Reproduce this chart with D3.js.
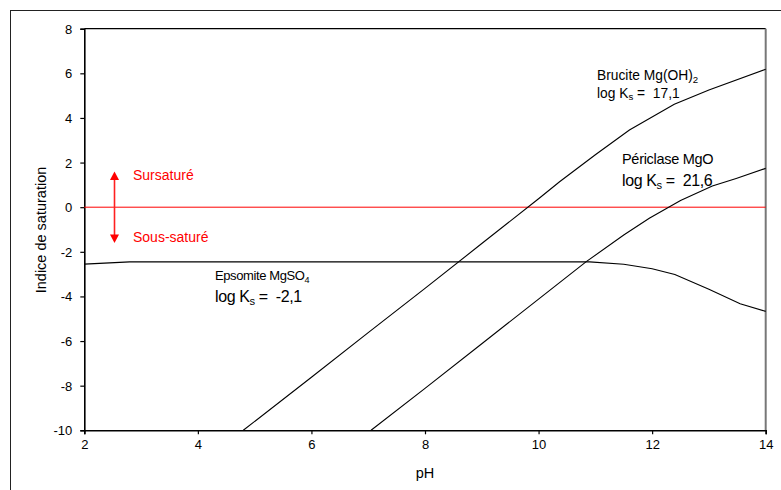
<!DOCTYPE html>
<html><head><meta charset="utf-8">
<script src="https://cdn.jsdelivr.net/npm/d3@7"></script>
<style>body{margin:0;background:#fff}svg{display:block}text{font-family:"Liberation Sans",Arial,sans-serif;white-space:pre}</style>
</head><body>
<svg id="c" width="781" height="490"></svg>
<script>
const xTicks = [2, 4, 6, 8, 10, 12, 14];
const yTicks = [-10, -8, -6, -4, -2, 0, 2, 4, 6, 8];
const bruciteData = [[4.8,-10],[6,-7.62],[7,-5.62],[8,-3.64],[9,-1.63],[10,0.38],[10.37,1.14],[11,2.35],[11.6,3.46],[12.39,4.61],[13,5.25],[14,6.18]];
const pericladeData = [[7.05,-10],[8,-8.12],[9,-6.12],[10,-4.12],[10.84,-2.44],[11.5,-1.25],[11.95,-0.5],[12.5,0.3],[13.06,0.95],[13.48,1.29],[14,1.74]];
const epsomiteData = [[2,-2.55],[2.8,-2.45],[4,-2.45],[6,-2.45],[8,-2.45],[10,-2.45],[10.9,-2.45],[11.5,-2.56],[12,-2.76],[12.4,-3.02],[13,-3.68],[13.55,-4.33],[14,-4.67]];
const labels = {
  y: "Indice de saturation",
  x: "pH",
  sur: "Sursaturé",
  sous: "Sous-saturé"
};

const svg = d3.select("#c");
const x = d3.scaleLinear().domain([2, 14]).range([84.3, 765.7]);
const y = d3.scaleLinear().domain([-10, 8]).range([430.3, 28.7]);

// outer frame
svg.append("rect").attr("x", 10.5).attr("y", 10.5).attr("width", 800).attr("height", 500)
  .attr("fill", "none").attr("stroke", "#222").attr("stroke-width", 1);

// plot frame: top and right
svg.append("line").attr("x1", x(2)).attr("x2", x(14)).attr("y1", y(8)).attr("y2", y(8))
  .attr("stroke", "#000").attr("stroke-width", 1.3);
svg.append("line").attr("x1", x(14)).attr("x2", x(14)).attr("y1", y(8)).attr("y2", y(-10))
  .attr("stroke", "#777").attr("stroke-width", 2);

// axes
const fmt = d => String(d);
const xAxis = svg.append("g").attr("transform", `translate(0,${y(-10)})`)
  .call(d3.axisBottom(x).tickValues(xTicks).tickSize(4).tickPadding(5).tickFormat(fmt));
const yAxis = svg.append("g").attr("transform", `translate(${x(2)},0)`)
  .call(d3.axisLeft(y).tickValues(yTicks).tickSize(4).tickPadding(8).tickFormat(fmt));
[xAxis, yAxis].forEach(g => {
  g.select(".domain").attr("stroke", "#000").attr("stroke-width", 1.6);
  g.selectAll(".tick line").attr("stroke", "#000").attr("stroke-width", 1.2);
  g.selectAll(".tick text").attr("font-size", 13).attr("fill", "#000")
    .style("font-family", "'Liberation Sans', Arial, sans-serif");
});
yAxis.selectAll(".tick text").attr("dy", "0.35em");

// zero line
svg.append("line").attr("x1", x(2)).attr("x2", x(14)).attr("y1", y(0)).attr("y2", y(0))
  .attr("stroke", "#ff0000").attr("stroke-width", 1);

// series lines
const line = d3.line().x(d => x(d[0])).y(d => y(d[1]));
[bruciteData, pericladeData, epsomiteData].forEach(data => {
  svg.append("path").datum(data).attr("d", line).attr("fill", "none")
    .attr("stroke", "#000").attr("stroke-width", 1.1);
});

// red double arrow
const ax = 114.5;
svg.append("line").attr("x1", ax).attr("x2", ax).attr("y1", 178).attr("y2", 236)
  .attr("stroke", "#ff2020").attr("stroke-width", 1.6);
svg.append("path").attr("d", `M${ax},171.5 L${ax-4.5},180 L${ax+4.5},180 Z`).attr("fill", "#ff0000");
svg.append("path").attr("d", `M${ax},243 L${ax-4.5},234.5 L${ax+4.5},234.5 Z`).attr("fill", "#ff0000");
svg.append("text").attr("x", 133).attr("y", 180).attr("font-size", 14).attr("fill", "#ff0000").text(labels.sur);
svg.append("text").attr("x", 133).attr("y", 241.5).attr("font-size", 14).attr("fill", "#ff0000").text(labels.sous);

// axis titles
svg.append("text").attr("x", 425).attr("y", 478).attr("text-anchor", "middle").attr("font-size", 14.5).text(labels.x);
svg.append("text").attr("transform", "translate(46,230) rotate(-90)").attr("text-anchor", "middle")
  .attr("font-size", 14.5).text(labels.y);

// annotations: each part placed on its own baseline (no relative dy)
function label(xp, yp, size, parts, ls) {
  const t = svg.append("text").attr("x", xp).attr("y", yp).attr("font-size", size).attr("fill", "#000")
    .attr("letter-spacing", ls || 0);
  parts.forEach(p => {
    if (p.sub) {
      t.append("tspan").attr("font-size", size * 0.7).attr("y", yp + size * 0.2).text(p.sub);
    } else {
      t.append("tspan").attr("y", yp).text(p.t);
    }
  });
  return t;
}
label(215, 280, 13, [{t: "Epsomite MgSO"}, {sub: "4"}], -0.4);
label(215, 302, 16, [{t: "log K"}, {sub: "s"}, {t: " =  -2,1"}], -0.4);
label(597, 80, 13.8, [{t: "Brucite Mg(OH)"}, {sub: "2"}]);
label(597, 97.5, 13.8, [{t: "log K"}, {sub: "s"}, {t: " =  17,1"}]);
label(622, 164, 14.5, [{t: "Périclase MgO"}], -0.3);
label(622, 186, 16, [{t: "log K"}, {sub: "s"}, {t: " =  21,6"}], -0.4);
</script>
</body></html>
